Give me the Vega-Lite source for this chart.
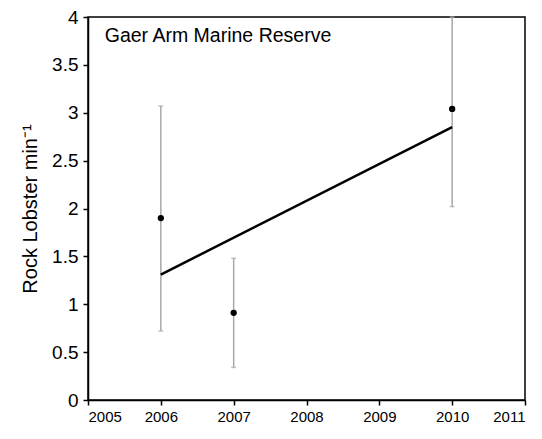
{
  "$schema": "https://vega.github.io/schema/vega-lite/v6.json",
  "width": 437,
  "height": 383,
  "autosize": "none",
  "padding": {"left": 88, "top": 17, "right": 17, "bottom": 39},
  "background": "white",
  "config": {
    "view": {"stroke": "black", "strokeWidth": 1.5},
    "axis": {
      "labelFont": "Liberation Sans",
      "titleFont": "Liberation Sans",
      "labelColor": "black",
      "titleColor": "black",
      "domainColor": "black",
      "tickColor": "black",
      "domainWidth": 1.5,
      "tickWidth": 1.5,
      "tickSize": 5,
      "grid": false
    }
  },
  "datasets": {
    "lobster": [
      {"year": 2006, "mean": 1.9, "lo": 0.72, "hi": 3.07},
      {"year": 2007, "mean": 0.91, "lo": 0.34, "hi": 1.48},
      {"year": 2010, "mean": 3.04, "lo": 2.02, "hi": 4.0}
    ],
    "fit": [
      {"year": 2006, "rate": 1.31},
      {"year": 2010, "rate": 2.85}
    ]
  },
  "layer": [
    {
      "data": {"name": "lobster"},
      "mark": {"type": "rule", "color": "#a8a8a8", "strokeWidth": 1.5},
      "encoding": {
        "x": {
          "field": "year",
          "type": "quantitative",
          "scale": {"domain": [2005, 2011], "nice": false, "zero": false},
          "axis": {
            "values": [2005, 2006, 2007, 2008, 2009, 2010, 2011],
            "format": "d",
            "title": null,
            "labelFontSize": 15,
            "labelPadding": 4
          }
        },
        "y": {
          "field": "lo",
          "type": "quantitative",
          "scale": {"domain": [0, 4], "nice": false},
          "axis": {
            "values": [0, 0.5, 1, 1.5, 2, 2.5, 3, 3.5, 4],
            "format": "~g",
            "title": "Rock Lobster min⁻¹",
            "titleFontSize": 20,
            "titleFontWeight": "normal",
            "titlePadding": 11,
            "labelFontSize": 19,
            "labelPadding": 5
          }
        },
        "y2": {"field": "hi"}
      }
    },
    {
      "data": {"name": "lobster"},
      "mark": {"type": "tick", "color": "#a8a8a8", "size": 5, "thickness": 1.5, "orient": "horizontal"},
      "encoding": {
        "x": {"field": "year", "type": "quantitative"},
        "y": {"field": "lo", "type": "quantitative"}
      }
    },
    {
      "data": {"name": "lobster"},
      "mark": {"type": "tick", "color": "#a8a8a8", "size": 5, "thickness": 1.5, "orient": "horizontal"},
      "encoding": {
        "x": {"field": "year", "type": "quantitative"},
        "y": {"field": "hi", "type": "quantitative"}
      }
    },
    {
      "data": {"name": "fit"},
      "mark": {"type": "line", "color": "black", "strokeWidth": 2.5},
      "encoding": {
        "x": {"field": "year", "type": "quantitative"},
        "y": {"field": "rate", "type": "quantitative"}
      }
    },
    {
      "data": {"name": "lobster"},
      "mark": {"type": "point", "filled": true, "color": "black", "opacity": 1, "size": 40},
      "encoding": {
        "x": {"field": "year", "type": "quantitative"},
        "y": {"field": "mean", "type": "quantitative"}
      }
    },
    {
      "data": {"values": [{"site": "Gaer Arm Marine Reserve"}]},
      "mark": {
        "type": "text",
        "align": "left",
        "baseline": "alphabetic",
        "font": "Liberation Sans",
        "fontSize": 19.5,
        "color": "black"
      },
      "encoding": {
        "x": {"datum": 2005.23, "type": "quantitative"},
        "y": {"datum": 3.74, "type": "quantitative"},
        "text": {"field": "site"}
      }
    }
  ]
}
